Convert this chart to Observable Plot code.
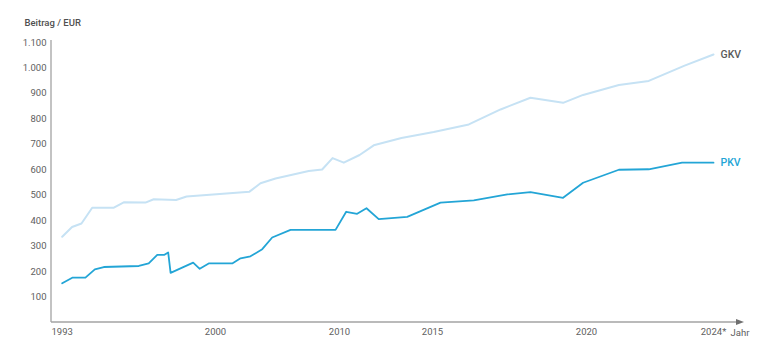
<!DOCTYPE html>
<html>
<head>
<meta charset="utf-8">
<script src="https://cdn.jsdelivr.net/npm/d3@7"></script>
<script src="https://cdn.jsdelivr.net/npm/@observablehq/plot@0.6"></script>
<style>
  html, body { margin: 0; padding: 0; background: #fff; }
  #chart svg { display: block; }
</style>
</head>
<body>
<div id="chart"></div>
<script>
// X tick values and labels
const xTicks = [1993, 2000, 2010, 2015, 2020, 2024];
const xTickLabels = ["1993", "2000", "2010", "2015", "2020", "2024*"];
// Y ticks
const yTicks = [100, 200, 300, 400, 500, 600, 700, 800, 900, 1000, 1100];

// GKV series (time in years, value in EUR)
const gkvYears = [1993.00, 1993.45, 1993.88, 1994.37, 1995.36, 1995.81, 1996.80, 1997.18, 1998.20, 1998.68,
  2002.74, 2003.63, 2004.84, 2007.52, 2008.60, 2009.44, 2010.23, 2011.08, 2011.84, 2013.33,
  2015.04, 2016.18, 2017.21, 2018.18, 2019.24, 2019.89, 2021.02, 2021.96, 2023.09, 2024.00];
const gkvValues = [337, 375, 389, 451, 451, 472, 471, 484, 481, 495,
  514, 547, 566, 595, 601, 646, 628, 658, 696, 725,
  748, 778, 837, 883, 863, 894, 933, 949, 1009, 1053];

// PKV series
const pkvYears = [1993.00, 1993.46, 1994.06, 1994.49, 1994.90, 1996.50, 1996.95, 1997.34, 1997.67, 1997.84,
  1997.95, 1998.98, 1999.28, 1999.69, 2001.35, 2002.02, 2002.82, 2003.77, 2004.57, 2006.05,
  2009.68, 2010.36, 2010.95, 2011.45, 2012.11, 2013.64, 2015.26, 2016.34, 2017.43, 2018.18,
  2019.24, 2019.89, 2021.02, 2021.96, 2023.01, 2024.00];
const pkvValues = [154, 176, 176, 209, 218, 222, 232, 266, 266, 275,
  195, 235, 211, 232, 232, 252, 260, 288, 334, 364,
  364, 435, 427, 449, 406, 415, 471, 480, 503, 512,
  490, 549, 600, 602, 628, 628];

const seriesNames = ["GKV", "PKV"];
const colors = {GKV: "#c6e2f4", PKV: "#23a5d6"};
const labelColors = {GKV: "#5a5a5a", PKV: "#23a5d6"};

const gkv = gkvYears.map((t, i) => ({series: "GKV", t, v: gkvValues[i]}));
const pkv = pkvYears.map((t, i) => ({series: "PKV", t, v: pkvValues[i]}));
const lastPoints = [gkv[gkv.length - 1], pkv[pkv.length - 1]];

const de = d3.formatLocale({decimal: ",", thousands: ".", grouping: [3], currency: ["", " €"]});
const fmtY = de.format(",d");
const fmtX = (d) => xTickLabels[xTicks.indexOf(d)];

// Axis lines with arrow (decoration drawn from the frame dimensions)
function axisDecor(index, scales, values, dims) {
  const {width, height, marginLeft, marginRight, marginTop, marginBottom} = dims;
  const x0 = marginLeft, x1 = width - marginRight;
  const y0 = height - marginBottom, yTop = marginTop - 2;
  const g = d3.create("svg:g").attr("stroke", "#a3a3a3").attr("stroke-width", 1.3);
  g.append("line").attr("x1", x0).attr("x2", x0).attr("y1", yTop).attr("y2", y0);
  g.append("line").attr("x1", x0).attr("x2", x1).attr("y1", y0).attr("y2", y0);
  g.append("path")
    .attr("d", `M${x1 - 1},${y0 - 3}L${x1 + 7},${y0}L${x1 - 1},${y0 + 3}Z`)
    .attr("fill", "#6f6f6f").attr("stroke", "none");
  return g.node();
}

const chart = Plot.plot({
  width: 771,
  height: 351,
  marginLeft: 51,
  marginRight: 34,
  marginTop: 42,
  marginBottom: 29,
  style: {fontFamily: "Roboto, 'Liberation Sans', sans-serif", fontSize: "9.5px", color: "#606060", background: "#fff"},
  x: {type: "linear", domain: xTicks, range: [61.7, 215, 339, 432, 586, 713]},
  y: {domain: [0, 1100]},
  marks: [
    Plot.axisY({ticks: yTicks, tickFormat: fmtY, tickSize: 0, tickPadding: 5, label: null, fill: "#606060"}),
    Plot.axisX({ticks: xTicks, tickFormat: fmtX, tickSize: 0, tickPadding: 6, label: null, fill: "#606060"}),
    axisDecor,
    Plot.line(gkv, {x: "t", y: "v", stroke: colors.GKV, strokeWidth: 2}),
    Plot.line(pkv, {x: "t", y: "v", stroke: colors.PKV, strokeWidth: 1.8}),
    Plot.text(lastPoints, {x: "t", y: "v", text: "series", textAnchor: "start", dx: 7, dy: 0,
      fill: (d) => labelColors[d.series], fontSize: 10.5, fontWeight: 500}),
    Plot.text(["Jahr"], {frameAnchor: "bottom-right", text: (d) => d, textAnchor: "start", lineAnchor: "middle",
      dx: -7, dy: 10, fill: "#606060", fontSize: 9.5}),
    Plot.text(["Beitrag / EUR"], {frameAnchor: "top-left", text: (d) => d, textAnchor: "start", lineAnchor: "middle",
      dx: -27, dy: -20, fill: "#505050", fontSize: 9.5, fontWeight: 500})
  ]
});
document.getElementById("chart").appendChild(chart);
</script>
</body>
</html>
